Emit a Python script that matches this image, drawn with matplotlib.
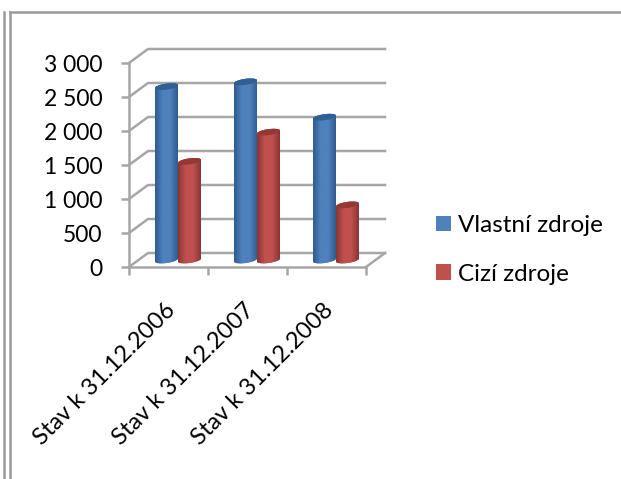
import numpy as np
import matplotlib
matplotlib.use('Agg')
import matplotlib.pyplot as plt
from matplotlib.colors import LinearSegmentedColormap
from matplotlib.lines import Line2D
from matplotlib.patches import Patch, PathPatch
from matplotlib.path import Path
from matplotlib.transforms import ScaledTranslation

CATEGORIES = ['Stav k 31.12.2006', 'Stav k 31.12.2007', 'Stav k 31.12.2008']
VLASTNI = [2550, 2620, 2100]
CIZI = [1450, 1880, 810]
SERIES_NAMES = ['Vlastní zdroje', 'Cizí zdroje']
Y_TICKS = [0, 500, 1000, 1500, 2000, 2500, 3000]
Y_LABELS = ['0', '500', '1 000', '1 500', '2 000', '2 500', '3 000']

W, H = 621, 479
GREY = '#a6a6a6'
BLUE = '#4f81bd'
RED = '#c0504d'

plt.rcParams['font.family'] = ['Lato', 'DejaVu Sans']

fig = plt.figure(figsize=(W / 100, H / 100), dpi=100)
# plot box of the front floor edge, in pixels: x 129-366, y 63-267
ax = fig.add_axes([129 / W, 1 - 267 / H, 237 / W, 204 / H])
ax.set_xlim(-0.5, 2.5)
ax.set_ylim(0, 3000)
ax.patch.set_alpha(0)

px_x = 3 / 237   # category units per pixel
px_y = 3000 / 204   # value units per pixel
depth_x = 19 * px_x
depth_y = 14 * px_y

# back wall, side wall and floor
x_left, x_right = ax.get_xlim()
for tick in Y_TICKS:
    ax.plot([x_left, x_left + depth_x, x_right + depth_x],
            [tick, tick + depth_y, tick + depth_y],
            color=GREY, lw=1.8, clip_on=False, zorder=1, solid_joinstyle='miter')
ax.plot([x_right, x_right + depth_x], [0, depth_y], color=GREY, lw=1.8, clip_on=False, zorder=1)


def draw_cylinder(center, value, color, edge, cap):
    half = 11.5 * px_x
    tilt = 3.0 * px_y / (2 * half)
    t = np.linspace(0, np.pi, 40)
    xs = center + half * np.cos(t)
    base = depth_y / 2
    top = value + depth_y / 2
    rise = 3.0 * px_y * np.sin(t)
    lean = tilt * (xs - center)

    # body outline: lower half of the bottom ellipse, up, upper half of the top one
    body_x = np.concatenate([xs[::-1], xs])
    body_y = np.concatenate([base - rise[::-1] + lean[::-1], top + rise + lean])
    clip = Path(np.column_stack([body_x, body_y]), closed=False)
    patch = PathPatch(clip, fc=color, ec='none', zorder=3, clip_on=False)
    ax.add_patch(patch)

    cmap = LinearSegmentedColormap.from_list('cyl', [edge, color, color, edge],)
    shade = np.linspace(0, 1, 64).reshape(1, -1)
    img = ax.imshow(shade, cmap=cmap, aspect='auto', zorder=4,
                    extent=[center - half, center + half, base - 5 * px_y, top + 5 * px_y])
    img.set_clip_path(patch)

    # top cap
    cap_x = np.concatenate([xs, xs[::-1]])
    cap_y = np.concatenate([top + rise + lean, top - rise[::-1] + lean[::-1]])
    ax.fill(cap_x, cap_y, color=cap, zorder=5, clip_on=False, lw=0)


for i in range(len(CATEGORIES)):
    mid = i + depth_x / 2
    draw_cylinder(mid - 11.5 * px_x, VLASTNI[i], BLUE, '#2f5b8e', '#2f5f93')
    draw_cylinder(mid + 11.5 * px_x, CIZI[i], RED, '#8a3533', '#953735')

ax.set_xlim(x_left, x_right)
ax.set_ylim(0, 3000)

# axes
for side in ['top', 'right']:
    ax.spines[side].set_visible(False)
for side in ['left', 'bottom']:
    ax.spines[side].set_color(GREY)
    ax.spines[side].set_linewidth(1.8)
ax.set_yticks(Y_TICKS)
ax.set_yticklabels(Y_LABELS, fontsize=16.5, color='black')
ax.set_xticks([-0.5, 0.5, 1.5, 2.5])
ax.set_xticklabels([])
ax.tick_params(axis='both', which='major', color=GREY, width=1.8, length=6)
ax.tick_params(axis='y', pad=13)
ax.set_xticks([0, 1, 2], minor=True)
ax.set_xticklabels(CATEGORIES, minor=True, rotation=45, ha='right', va='top',
                   rotation_mode='anchor', fontsize=17)
ax.tick_params(axis='x', which='minor', length=0, pad=23.5)
shift = ScaledTranslation(-4 / 100, 0, fig.dpi_scale_trans)
for label in ax.get_xticklabels(minor=True):
    label.set_transform(label.get_transform() + shift)

handles = [Patch(fc=BLUE, lw=0, label=SERIES_NAMES[0]), Patch(fc=RED, lw=0, label=SERIES_NAMES[1])]
fig.legend(handles=handles, loc='center left', bbox_to_anchor=(436 / W, 1 - 250 / H),
           frameon=False, fontsize=17.5, handlelength=0.62, handleheight=0.62,
           handletextpad=0.3, labelspacing=1.14, borderpad=0, borderaxespad=0)

# page frame lines around the chart
frame = [([3.5, 3.5], [12, H]), ([10, 10], [12, H]), ([10, W], [12, 12])]
for xs, ys in frame:
    fig.add_artist(Line2D(np.array(xs) / W, 1 - np.array(ys) / H, color='#9a9a9a', lw=1.8))

fig.savefig('out.png', dpi=100)
